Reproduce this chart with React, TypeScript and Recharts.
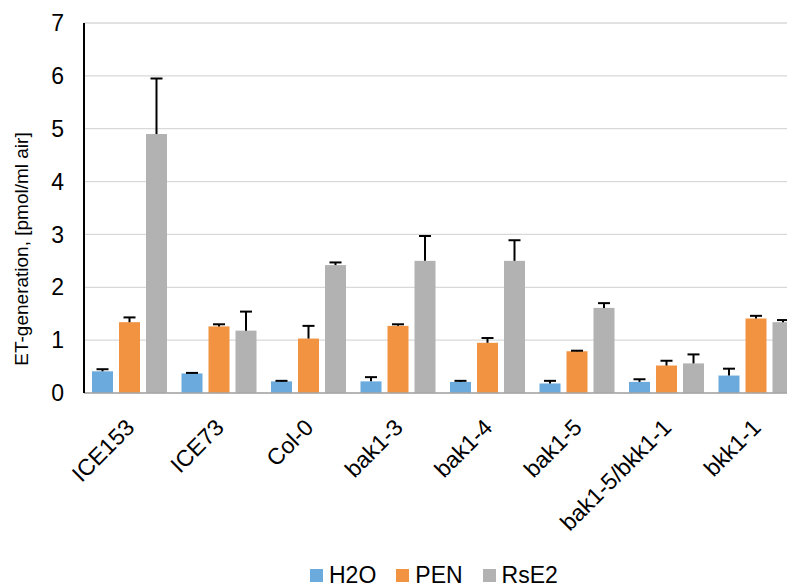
import React from 'react'
import { BarChart, Bar, XAxis, YAxis, CartesianGrid, Legend, Label } from 'recharts'

const categories = ['ICE153', 'ICE73', 'Col-0', 'bak1-3', 'bak1-4', 'bak1-5', 'bak1-5/bkk1-1', 'bkk1-1']
const h2o = [0.41, 0.37, 0.22, 0.22, 0.21, 0.18, 0.21, 0.33]
const h2oErr = [0.04, 0.01, 0.01, 0.08, 0.02, 0.05, 0.05, 0.13]
const pen = [1.34, 1.26, 1.03, 1.27, 0.95, 0.79, 0.52, 1.41]
const penErr = [0.09, 0.04, 0.24, 0.03, 0.09, 0.01, 0.09, 0.05]
const rse2 = [4.9, 1.18, 2.42, 2.5, 2.5, 1.61, 0.56, 1.34]
const rse2Err = [1.05, 0.36, 0.05, 0.47, 0.39, 0.09, 0.17, 0.04]
const yTicks = [0, 1, 2, 3, 4, 5, 6, 7]

const data = categories.map((name, i) => ({
  name,
  h2o: h2o[i],
  h2oErr: h2oErr[i],
  pen: pen[i],
  penErr: penErr[i],
  rse2: rse2[i],
  rse2Err: rse2Err[i],
}))

const FONT = '"Liberation Sans", Arial, sans-serif'

// bar with an upward-only error whisker (Excel style), scaled from the bar's own height
const withError = (key: string, errKey: string) => (props: any) => {
  const { x, y, width, height, fill, payload } = props
  const v = payload[key]
  const e = payload[errKey]
  const k = v ? height / v : 0
  const top = y - e * k
  const cx = x + width / 2
  return (
    <g>
      <rect x={x} y={y} width={width} height={height} fill={fill} />
      <line x1={cx} y1={y} x2={cx} y2={top} stroke="#000" strokeWidth={2} />
      <line x1={cx - 6} y1={top} x2={cx + 6} y2={top} stroke="#000" strokeWidth={2} />
    </g>
  )
}

const XTick = (props: any) => {
  const { x, y, payload } = props
  const tx = x + 7
  const ty = y + 36
  return (
    <text
      x={tx}
      y={ty}
      transform={`rotate(-45, ${tx}, ${ty})`}
      textAnchor="end"
      fontSize={23}
      fontFamily={FONT}
      fill="#000"
    >
      {payload.value}
    </text>
  )
}

const LegendContent = (props: any) => {
  const { payload } = props
  return (
    <div style={{ display: 'flex', alignItems: 'center', height: 24, fontFamily: FONT, fontSize: 23, color: '#000' }}>
      {payload.map((p: any) => (
        <span key={p.value} style={{ display: 'flex', alignItems: 'center', marginRight: 20 }}>
          <span style={{ width: 13, height: 13, background: p.color, marginRight: 6, display: 'inline-block' }} />
          {p.value}
        </span>
      ))}
    </div>
  )
}

export default function App() {
  return (
    <div style={{ position: 'fixed', left: 0, top: 0, width: 787, height: 587, overflow: 'hidden', background: '#fff' }}>
      <BarChart
        width={800}
        height={587}
        data={data}
        margin={{ top: 23, right: 0, bottom: 0, left: 0 }}
        barCategoryGap={8}
        barGap={6}
      >
        <CartesianGrid vertical={false} stroke="#d9d9d9" strokeWidth={1.3} />
        <XAxis
          dataKey="name"
          interval={0}
          height={170}
          tickLine={false}
          tickSize={0}
          tickMargin={0}
          tick={<XTick />}
          axisLine={{ stroke: '#a6a6a6', strokeWidth: 1.5 }}
        />
        <YAxis
          width={84}
          domain={[0, 7]}
          ticks={yTicks}
          interval={0}
          tickLine={false}
          tickSize={0}
          tickMargin={20}
          tick={{ fontSize: 23, fontFamily: FONT, fill: '#000' }}
          axisLine={{ stroke: '#000', strokeWidth: 2 }}
        >
          <Label
            content={() => (
              <text
                x={28}
                y={249}
                transform="rotate(-90, 28, 249)"
                textAnchor="middle"
                fontSize={19}
                fontFamily={FONT}
                fill="#000"
              >
                ET-generation, [pmol/ml air]
              </text>
            )}
          />
        </YAxis>
        <Legend verticalAlign="bottom" content={<LegendContent />} wrapperStyle={{ left: 310, width: 'auto' }} />
        <Bar dataKey="h2o" name="H2O" fill="#6aaadc" isAnimationActive={false} shape={withError('h2o', 'h2oErr')} />
        <Bar dataKey="pen" name="PEN" fill="#f29342" isAnimationActive={false} shape={withError('pen', 'penErr')} />
        <Bar dataKey="rse2" name="RsE2" fill="#b2b2b2" isAnimationActive={false} shape={withError('rse2', 'rse2Err')} />
      </BarChart>
    </div>
  )
}
